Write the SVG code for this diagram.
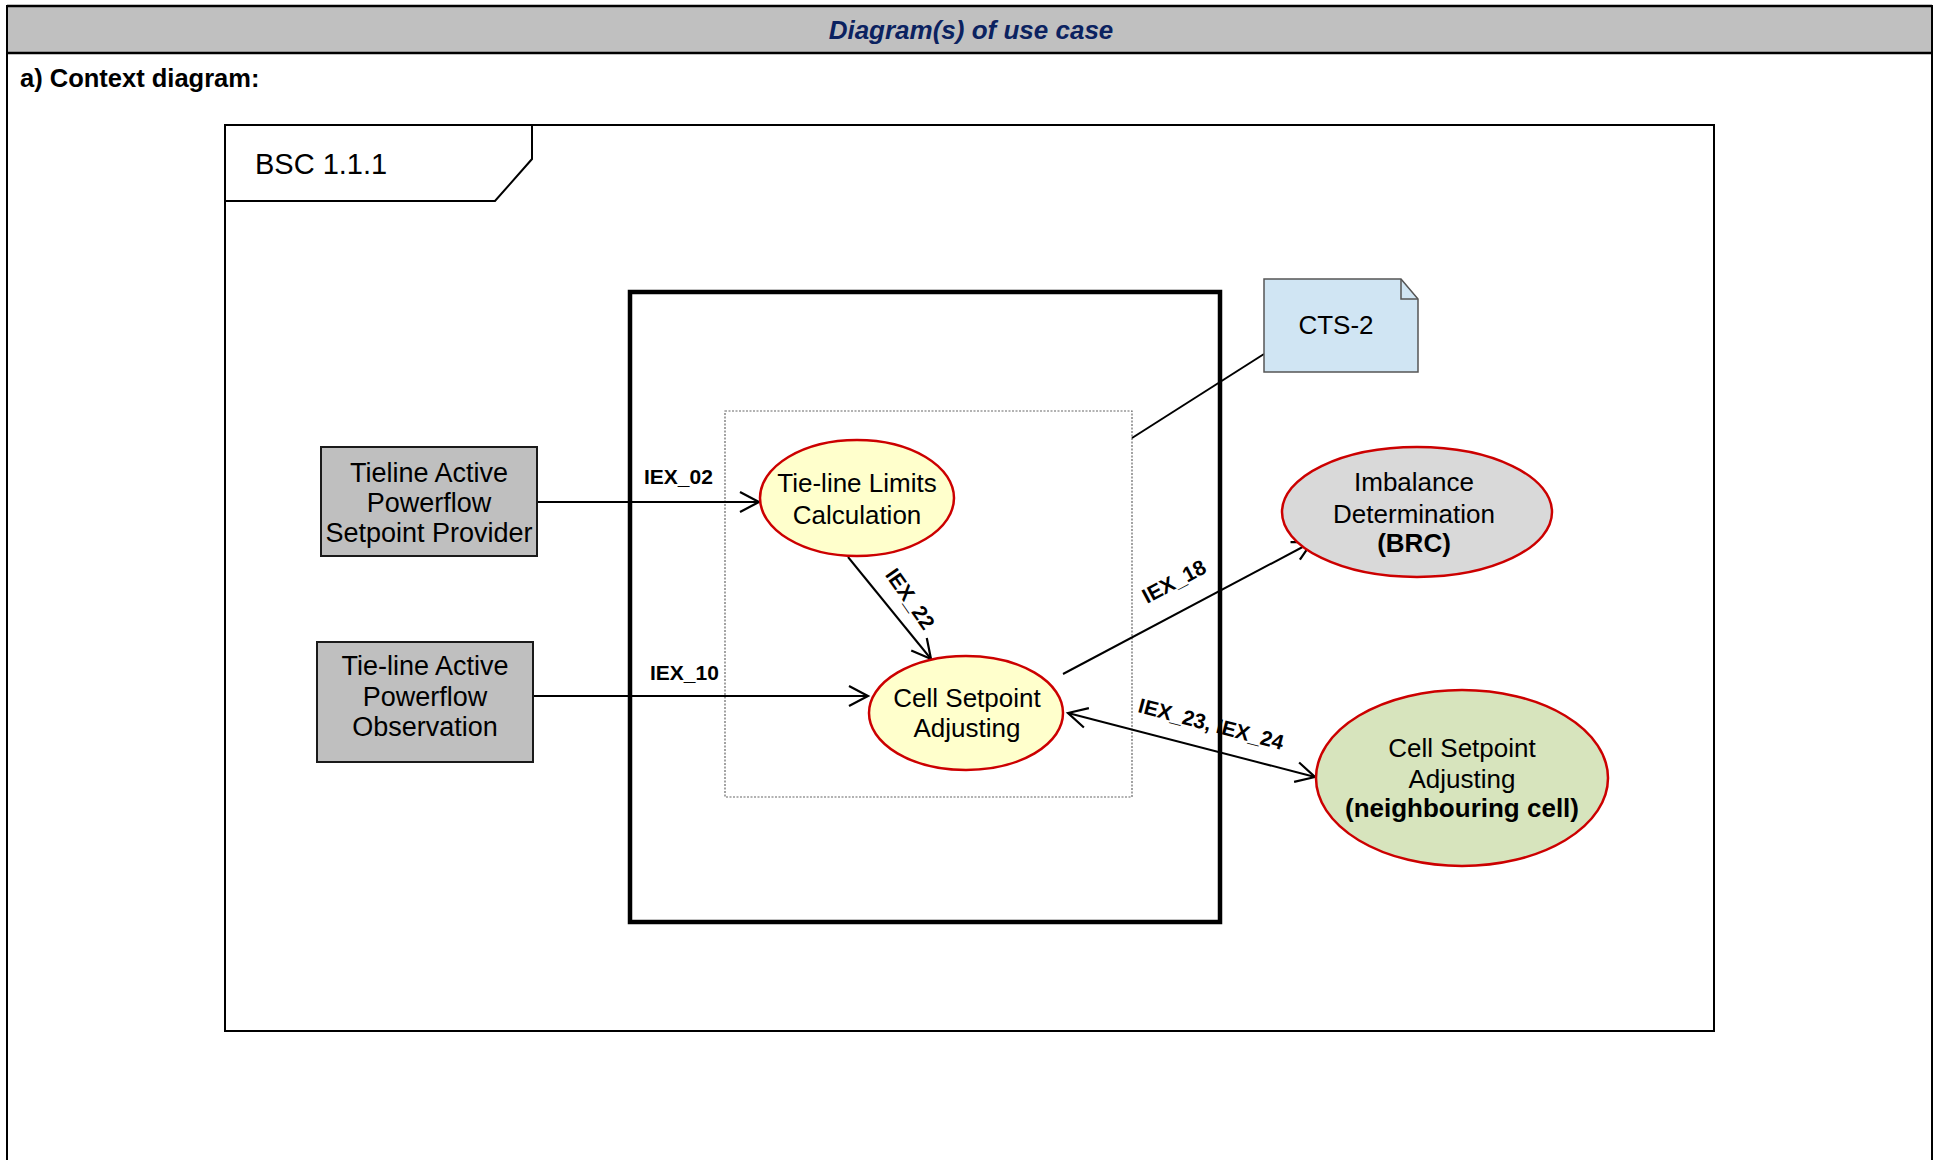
<svg xmlns="http://www.w3.org/2000/svg" width="1934" height="1160" viewBox="0 0 1934 1160">
<style>
  text { font-family: "Liberation Sans", Arial, sans-serif; fill: #000; }
  .lbl { font-size: 21px; font-weight: bold; }
  .node { font-size: 26px; text-anchor: middle; }
  .box { font-size: 27px; text-anchor: middle; }
  .uc { stroke: #CC0000; stroke-width: 2.5; }
  .actor { fill: #BFBFBF; stroke: #1a1a1a; stroke-width: 2; }
  .conn { stroke: #000; stroke-width: 2; fill: none; }
</style>
<defs>
  <marker id="arr" markerUnits="userSpaceOnUse" markerWidth="24" markerHeight="26" viewBox="-21 -13 24 26" refX="0" refY="0" orient="auto-start-reverse">
    <path d="M-19,-10 L0,0 L-19,10" fill="none" stroke="#000" stroke-width="2.2"/>
  </marker>
</defs>
<rect x="0" y="0" width="1934" height="1160" fill="#fff"/>
<!-- page frame and header -->
<g id="page">
  <rect x="7" y="6" width="1925" height="47" fill="#C0C0C0"/>
  <line x1="7" y1="6" x2="1932" y2="6" stroke="#000" stroke-width="2.5"/>
  <line x1="7" y1="53" x2="1932" y2="53" stroke="#000" stroke-width="2.5"/>
  <line x1="7" y1="5" x2="7" y2="1160" stroke="#000" stroke-width="2"/>
  <line x1="1932" y1="5" x2="1932" y2="1160" stroke="#000" stroke-width="2"/>
  <text x="971" y="39" font-size="26" font-weight="bold" font-style="italic" text-anchor="middle" style="fill:#0B2260">Diagram(s) of use case</text>
  <text x="20" y="87" font-size="25.5" font-weight="bold">a) Context diagram:</text>
</g>
<!-- BSC frame -->
<g id="frame">
  <rect x="225" y="125" width="1489" height="906" fill="none" stroke="#000" stroke-width="2"/>
  <path d="M225,201 L495,201 L532,159 L532,125" fill="none" stroke="#000" stroke-width="2"/>
  <text x="255" y="174" font-size="29">BSC 1.1.1</text>
</g>
<!-- system boundary -->
<g id="system">
  <rect x="630" y="292" width="590" height="630" fill="none" stroke="#000" stroke-width="4.5"/>
  <rect x="725" y="411" width="407" height="386" fill="none" stroke="#666" stroke-width="1.2" stroke-dasharray="2,1.5"/>
</g>
<!-- connectors -->
<g id="connectors">
  <line class="conn" x1="537" y1="502" x2="759" y2="502" marker-end="url(#arr)"/>
  <line class="conn" x1="533" y1="696" x2="868" y2="696" marker-end="url(#arr)"/>
  <line class="conn" x1="848" y1="557" x2="931" y2="659" marker-end="url(#arr)"/>
  <line class="conn" x1="1063" y1="674" x2="1312" y2="542" marker-end="url(#arr)"/>
  <line class="conn" x1="1068" y1="713" x2="1315" y2="777" marker-start="url(#arr)" marker-end="url(#arr)"/>
  <line class="conn" x1="1132" y1="438" x2="1264" y2="354"/>
  <text class="lbl" x="644" y="484">IEX_02</text>
  <text class="lbl" x="650" y="680">IEX_10</text>
  <text class="lbl" transform="translate(910,599) rotate(55)" x="0" y="7" text-anchor="middle">IEX_22</text>
  <text class="lbl" transform="translate(1147,604) rotate(-28)" x="0" y="0">IEX_18</text>
  <text class="lbl" transform="translate(1137,712) rotate(14.7)" x="0" y="0">IEX_23, IEX_24</text>
</g>
<!-- actors -->
<g id="actor-setpoint-provider">
  <rect class="actor" x="321" y="447" width="216" height="109"/>
  <text class="box" x="429" y="482">Tieline Active</text>
  <text class="box" x="429" y="512">Powerflow</text>
  <text class="box" x="429" y="542">Setpoint Provider</text>
</g>
<g id="actor-observation">
  <rect class="actor" x="317" y="642" width="216" height="120"/>
  <text class="box" x="425" y="675">Tie-line Active</text>
  <text class="box" x="425" y="706">Powerflow</text>
  <text class="box" x="425" y="736">Observation</text>
</g>
<!-- use cases -->
<g id="uc-limits">
  <ellipse class="uc" cx="857" cy="498" rx="97" ry="58" fill="#FFFFCC"/>
  <text class="node" x="857" y="492">Tie-line Limits</text>
  <text class="node" x="857" y="524">Calculation</text>
</g>
<g id="uc-cell-setpoint">
  <ellipse class="uc" cx="966" cy="713" rx="97" ry="57" fill="#FFFFCC"/>
  <text class="node" x="967" y="707">Cell Setpoint</text>
  <text class="node" x="967" y="737">Adjusting</text>
</g>
<g id="uc-imbalance">
  <ellipse class="uc" cx="1417" cy="512" rx="135" ry="65" fill="#D9D9D9"/>
  <text class="node" x="1414" y="491">Imbalance</text>
  <text class="node" x="1414" y="523">Determination</text>
  <text class="node" x="1414" y="552" font-weight="bold">(BRC)</text>
</g>
<g id="uc-neighbour">
  <ellipse class="uc" cx="1462" cy="778" rx="146" ry="88" fill="#D7E4BD"/>
  <text class="node" x="1462" y="757">Cell Setpoint</text>
  <text class="node" x="1462" y="788">Adjusting</text>
  <text class="node" x="1462" y="817" font-weight="bold">(neighbouring cell)</text>
</g>
<!-- note -->
<g id="note-cts2">
  <path d="M1264,279 L1401,279 L1418,299 L1418,372 L1264,372 Z" fill="#D0E5F3" stroke="#555" stroke-width="1.5"/>
  <path d="M1401,279 L1401,299 L1418,299" fill="none" stroke="#555" stroke-width="1.5"/>
  <text class="node" x="1336" y="334">CTS-2</text>
</g>
</svg>
